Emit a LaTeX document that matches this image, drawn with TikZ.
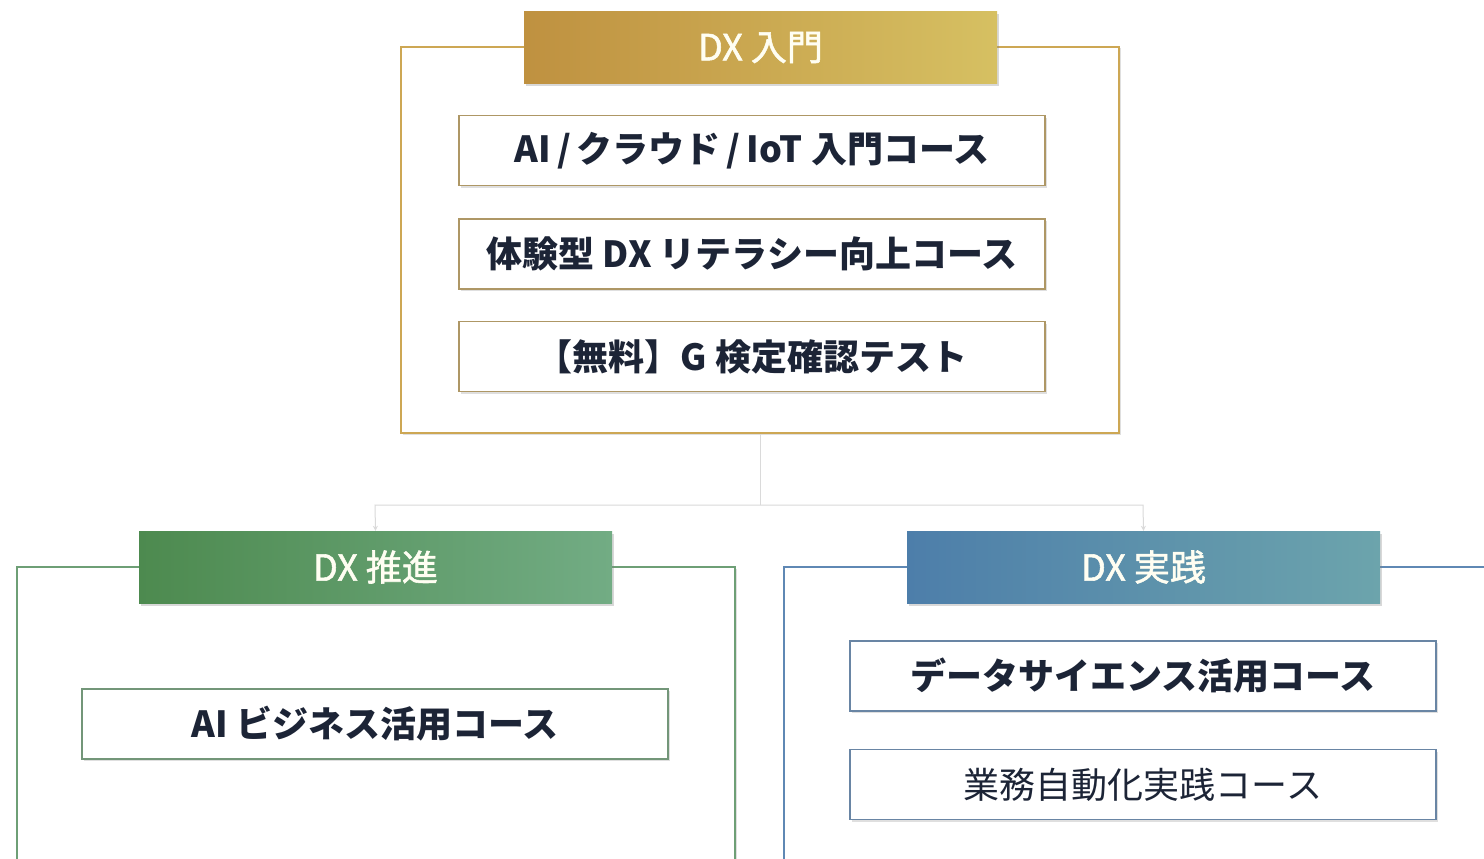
\documentclass[tikz,border=0pt]{standalone}
\usepackage{fontspec}
\setmainfont{Noto Sans CJK JP}
\newfontfamily\headfont{Noto Sans CJK JP}[FakeBold=1.5]
\usetikzlibrary{shadows,arrows.meta}
\definecolor{gold}{HTML}{CDA754}
\definecolor{goldL}{HTML}{BF9140}
\definecolor{goldR}{HTML}{D6C062}
\definecolor{greenF}{HTML}{6E9F76}
\definecolor{greenL}{HTML}{4D8A4F}
\definecolor{greenR}{HTML}{72AC84}
\definecolor{blueF}{HTML}{5F88B4}
\definecolor{blueL}{HTML}{4D7EAA}
\definecolor{blueR}{HTML}{6CA4AC}
\definecolor{txt}{HTML}{1C2436}
\definecolor{conn}{HTML}{DADADA}
\tikzset{
  frame/.style={draw=#1, line width=2.8pt, fill=white, minimum width=718pt, inner sep=0pt,
    drop shadow={shadow xshift=1.5pt, shadow yshift=-1.5pt, opacity=0.25}},
  head/.style args={#1/#2}{left color=#1, right color=#2, draw=none, minimum width=473pt,
    minimum height=72pt, inner sep=0pt, text=white!95!yellow, font=\headfont\fontsize{36}{38}\selectfont,
    drop shadow={shadow xshift=2pt, shadow yshift=-3pt, opacity=0.3}},
  course/.style={draw=#1, line width=1.3pt, fill=white, minimum width=586pt, minimum height=70pt,
    inner sep=0pt, text=txt, font=\fontsize{36}{38}\selectfont\bfseries,
    drop shadow={shadow xshift=2pt, shadow yshift=-2pt, opacity=0.25}},
  link/.style={draw=conn, line width=1pt},
}
\begin{document}
\begin{tikzpicture}[x=1pt,y=-1pt]
\useasboundingbox (0,0) rectangle (1484,859);
\clip (0,0) rectangle (1484,859);
\fill[white] (0,0) rectangle (1484,859);
% connectors
\coordinate (split) at (760,505);
\coordinate (lj) at (375,505);
\coordinate (rj) at (1143,505);
\node[frame=gold, minimum height=386pt] (intro) at (760,240) {};
\node[head=goldL/goldR] (introHead) at (760.5,47.5) {DX 入門};
\node[course=gold!60!gray] (c1) at (752,150.5) {AI\,/\,クラウド\,/\,IoT\ 入門コース};
\node[course=gold!60!gray] (c2) at (752,254) {体験型 DX リテラシー向上コース};
\node[course=gold!60!gray] (c3) at (752,356.5) {【無料】G 検定確認テスト};
% bottom left
\node[frame=greenF, minimum height=333pt] (promo) at (376,733.5) {};
\node[head=greenL/greenR] (promoHead) at (375.5,567) {DX 推進};
\node[course=greenF!70!gray] (c4) at (375,724) {AI ビジネス活用コース};
% bottom right
\node[frame=blueF, minimum height=333pt] (prac) at (1143,733.5) {};
\node[head=blueL/blueR] (pracHead) at (1143.5,567) {DX 実践};
\node[course=blueF!70!gray] (c5) at (1143,676) {データサイエンス活用コース};
\node[course=blueF!70!gray, font=\fontsize{36}{38}\selectfont\mdseries] (c6) at (1143,784.5) {業務自動化実践コース};
% links
\draw[link] (intro.south) -- (split);
\draw[link, -{Stealth[length=5pt,width=5pt]}] (split) -- (lj) -- (promoHead.north);
\draw[link, -{Stealth[length=5pt,width=5pt]}] (split) -- (rj) -- (pracHead.north);
\end{tikzpicture}
\end{document}
